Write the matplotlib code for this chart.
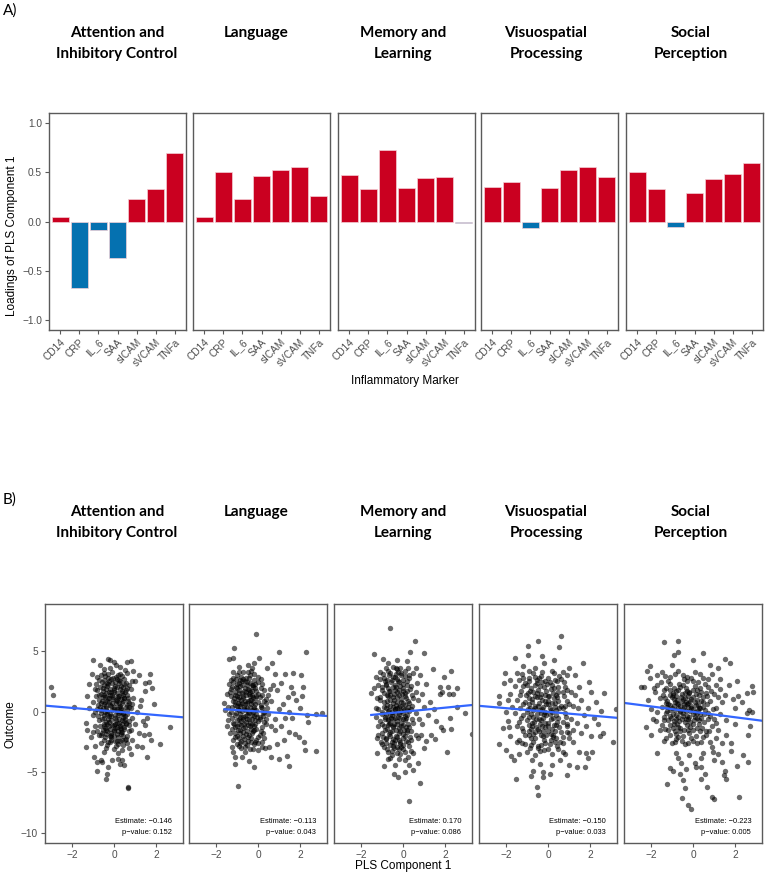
import numpy as np
import matplotlib
matplotlib.use("Agg")
import matplotlib.pyplot as plt

plt.rcParams["font.family"] = ["Liberation Sans", "DejaVu Sans"]

# ---------------- data ----------------
domains = ["Attention and\nInhibitory Control", "Language", "Memory and\nLearning",
           "Visuospatial\nProcessing", "Social\nPerception"]
markers = ["CD14", "CRP", "IL_6", "SAA", "sICAM", "sVCAM", "TNFa"]

loadings_attention = [0.044, -0.670, -0.088, -0.370, 0.227, 0.329, 0.695]
loadings_language = [0.047, 0.498, 0.227, 0.461, 0.522, 0.553, 0.254]
loadings_memory = [0.475, 0.329, 0.725, 0.339, 0.444, 0.451, -0.015]
loadings_visuospatial = [0.349, 0.400, -0.070, 0.342, 0.525, 0.555, 0.454]
loadings_social = [0.497, 0.330, -0.055, 0.290, 0.434, 0.478, 0.594]

estimates = [-0.146, -0.113, 0.170, -0.150, -0.223]
intercepts = [0.02, 0.02, -0.01, -0.01, -0.01]
p_values = ["0.152", "0.043", "0.086", "0.033", "0.005"]
line_xmin = [-3.3, -1.6, -1.52, -3.3, -3.3]
line_xmax = [3.3, 3.3, 3.3, 3.3, 3.3]

scatter_attention = [
    (-3.03, 2.07), (-2.90, 1.35), (-1.91, 0.41), (0.66, -6.2), (0.68, -6.3), (-0.38, -5.54), (-0.34, -5.18),
    (-0.83, -4.88), (2.68, -1.29), (2.20, -2.70), (1.59, -3.77), (1.70, 3.11), (1.68, 2.48), (1.83, 1.96),
    (1.91, 0.61), (1.46, 2.34), (1.49, 1.74), (0.82, 4.19), (0.61, 4.13), (-0.99, 4.27), (-0.30, 4.32),
    (-0.18, 4.3), (-0.67, 3.86), (-1.31, 1.29), (-1.33, -0.96), (-1.31, -1.52), (-1.33, -2.95), (-1.11, -2.12),
    (-0.96, -3.72), (-0.83, -4.13), (-0.59, -4.13), (0.50, -4.44), (0.40, -4.0), (0.82, -3.5), (1.09, -2.84),
    (1.33, -2.95), (1.44, -1.93), (1.65, -1.87), (1.78, -2.34), (0.88, -2.34), (1.38, -0.8), (1.22, 0.47),
    (0.88, 0.63), (0.53, 3.44), (-1.04, 3.11), (-0.91, 1.85), (0.08, 3.86), (-0.6, -4.0), (-0.3, -4.6),
    (-0.1, -4.0), (0.2, -3.9), (0.3, -4.3), (1.0, -1.0), (1.1, 0.0), (1.3, 1.0), (1.0, 2.5), (1.2, 3.0),
    (0.9, 3.4), (-1.2, 0.3), (-1.0, -0.3), (-1.2, 2.3), (-0.8, 2.9), (-0.5, 3.5), (0.3, 3.7), (0.0, 4.1),
    (-1.0, 0.8), (1.5, -1.1), (1.6, -0.5), (1.2, -1.8), (0.7, -3.0), (-0.9, -2.8), (-1.0, -1.7),
    (-0.7, 2.6), (-0.5, 2.2), (-0.3, 2.8), (-0.1, 2.4), (0.1, 2.9), (0.3, 2.5), (0.5, 2.7), (0.7, 2.2),
    (-0.8, 1.8), (-0.6, 1.5), (-0.4, 1.9), (-0.2, 1.4), (0.0, 1.8), (0.2, 1.3), (0.4, 1.7), (0.6, 1.4), (0.8, 1.9),
    (-0.7, 1.0), (-0.5, 0.6), (-0.3, 1.1), (-0.1, 0.7), (0.1, 1.0), (0.3, 0.5), (0.5, 1.1), (0.7, 0.7),
    (-0.8, 0.2), (-0.6, -0.1), (-0.4, 0.3), (-0.2, -0.2), (0.0, 0.2), (0.2, -0.3), (0.4, 0.1), (0.6, -0.2), (0.8, 0.3),
    (-0.7, -0.7), (-0.5, -1.0), (-0.3, -0.6), (-0.1, -1.1), (0.1, -0.7), (0.3, -1.2), (0.5, -0.8), (0.7, -1.1),
    (-0.8, -1.6), (-0.6, -1.9), (-0.4, -1.5), (-0.2, -2.0), (0.0, -1.6), (0.2, -2.1), (0.4, -1.7), (0.6, -2.0),
    (0.8, -1.5), (-0.6, -2.6), (-0.4, -3.0), (-0.2, -2.5), (0.0, -3.1), (0.2, -2.7), (0.4, -3.2), (0.6, -2.6),
    (-0.5, 3.2), (-0.1, 3.3), (0.3, 3.1), (-0.45, 0.0), (-0.15, 0.45), (0.15, 0.25), (0.45, -0.45), (-0.25, -0.35),
    (0.05, -0.55), (0.25, 0.75), (-0.35, 0.85), (-0.05, 1.25), (0.35, 1.05), (-0.55, 1.25), (0.55, 0.35),
    (-0.25, 1.65), (0.15, 1.55), (-0.45, -1.35), (0.05, -1.35), (0.35, -1.45), (-0.15, -1.75), (0.25, -0.95),
    (-0.35, 2.35), (0.05, 2.15), (0.45, 2.05), (-0.15, -2.35), (0.15, -2.45), (-0.65, 0.4), (0.65, 0.9),
    (-0.42, 2.95), (0.12, 2.7), (0.38, 2.95), (-0.58, 2.45), (-0.22, 2.55), (0.22, 2.35), (0.55, 2.4),
    (-0.68, 2.05), (-0.32, 2.1), (-0.02, 1.95), (0.32, 2.15), (0.62, 1.95), (-0.52, 1.72), (-0.12, 1.62),
    (0.28, 1.85), (0.52, 1.62), (-0.72, 1.35), (-0.42, 1.18), (-0.08, 1.42), (0.18, 1.12), (0.42, 1.38),
    (0.68, 1.15), (-0.58, 0.92), (-0.22, 0.82), (0.08, 0.68), (0.42, 0.88), (0.62, 0.58), (-0.78, 0.55),
    (-0.38, 0.48), (-0.02, 0.42), (0.32, 0.28), (0.72, 0.42), (-0.62, 0.12), (-0.32, 0.08), (0.12, 0.08),
    (0.42, -0.12), (0.62, 0.12), (-0.78, -0.32), (-0.48, -0.28), (-0.12, -0.38), (0.22, -0.12), (0.52, -0.32),
    (-0.58, -0.62), (-0.22, -0.82), (0.12, -0.92), (0.38, -0.68), (0.72, -0.78), (-0.68, -1.18), (-0.32, -1.02),
    (0.02, -1.12), (0.28, -1.32), (0.58, -1.05), (-0.52, -1.52), (-0.18, -1.42), (0.18, -1.62), (0.48, -1.42),
    (0.72, -1.62), (-0.72, -1.92), (-0.38, -1.82), (-0.02, -1.98), (0.32, -1.88), (0.58, -2.22), (-0.48, -2.32),
    (-0.12, -2.12), (0.28, -2.42), (0.52, -2.35), (-0.32, -2.78), (0.08, -2.85), (0.42, -2.72), (-0.9, 0.0),
    (-0.85, 1.3), (0.85, -0.5), (0.9, 1.1), (-0.9, -1.2), (0.85, 2.5), (-0.85, 2.3), (-0.6, 3.0), (0.6, 3.2),
    (-0.2, 3.6), (0.2, -3.4), (-0.5, -3.3),
    (-0.46, 2.58), (-0.14, 2.72), (0.24, 2.62), (0.46, 2.28), (-0.28, 2.28), (0.06, 2.48), (-0.52, 1.95),
    (-0.18, 1.88), (0.16, 2.02), (0.38, 1.52), (-0.36, 1.58), (0.02, 1.62), (-0.48, 1.38), (-0.24, 1.12),
    (0.26, 1.28), (0.48, 1.12), (-0.06, 1.05), (-0.42, 0.78), (0.12, 0.88), (0.36, 0.72), (-0.18, 0.58),
    (0.22, 0.42), (-0.52, 0.28), (-0.08, 0.18), (0.34, -0.02), (-0.32, -0.18), (0.06, -0.28), (0.44, -0.18),
    (-0.48, -0.52), (-0.12, -0.68), (0.24, -0.58), (0.52, -0.62), (-0.38, -0.88), (0.04, -0.98), (0.38, -1.02),
    (-0.22, -1.22), (0.16, -1.28), (-0.48, -1.18), (0.46, -1.24), (-0.34, -1.58), (0.02, -1.48), (0.32, -1.68),
    (-0.16, -1.92), (0.14, -1.82), (0.44, -2.02), (-0.44, -2.12), (0.04, -2.38), (-0.28, -2.48), (0.36, -2.32),
    (-0.04, 2.82), (0.2, 3.05), (-0.3, 3.1), (0.55, 1.8), (-0.6, 0.75), (0.58, -0.95), (-0.58, -1.75),
]

scatter_language = [
    (-0.08, 6.39), (-1.14, 5.23), (0.99, 4.96), (2.28, 4.93), (-1.41, 4.33), (-1.2, 4.41), (0.06, 4.46),
    (-0.96, -6.12), (-0.19, -4.57), (-0.43, -4.1), (-1.09, -4.33), (1.47, -4.46), (1.41, -3.69), (0.99, -3.94),
    (0.61, -3.72), (2.76, -3.25), (2.24, -3.14), (2.18, -2.51), (1.96, -2.12), (1.79, -1.85), (1.46, -1.68),
    (1.62, -0.55), (2.32, -0.28), (2.40, -0.83), (2.76, -0.22), (3.08, -0.08), (2.15, 2.07), (2.05, 3.03),
    (1.65, 3.22), (1.28, 3.09), (2.12, 1.29), (1.68, 1.57), (1.81, 0.96), (1.43, 1.24), (0.67, 3.99),
    (0.45, 3.58), (0.8, 3.1), (-1.65, 0.69), (-1.57, 0.14), (-1.44, -0.69), (-1.33, -1.79), (-1.25, -2.89),
    (-1.09, -3.72), (-0.77, -3.72), (0.35, -3.03), (0.51, -2.89), (0.91, -2.67), (1.23, -2.34), (0.8, -1.5),
    (1.1, -1.2), (1.0, 0.2), (1.2, 0.6), (0.9, 1.8), (1.1, 2.4), (0.7, 2.2), (1.5, 0.0), (1.3, -0.5),
    (0.8, -0.6), (0.6, 0.9), (-1.5, 1.5), (-1.4, 2.3), (-1.2, 3.3), (-0.9, 3.7), (-0.5, 3.9), (-0.2, 4.0),
    (-1.5, -1.2), (-0.6, -3.3), (0.0, -3.2), (0.2, -2.5), (1.6, 2.0), (2.0, 0.3),
    (-1.2, 2.8), (-1.0, 2.3), (-0.8, 2.9), (-0.6, 2.5), (-0.4, 3.0), (-0.2, 2.6), (0.0, 2.9), (0.2, 2.3),
    (-1.3, 1.9), (-1.1, 1.4), (-0.9, 1.8), (-0.7, 1.3), (-0.5, 1.9), (-0.3, 1.4), (-0.1, 1.7), (0.1, 1.2),
    (0.3, 1.8), (0.5, 1.4), (-1.2, 0.9), (-1.0, 0.5), (-0.8, 1.0), (-0.6, 0.6), (-0.4, 1.0), (-0.2, 0.4),
    (0.0, 0.8), (0.2, 0.3), (0.4, 0.7), (-1.3, 0.0), (-1.1, -0.3), (-0.9, 0.1), (-0.7, -0.4), (-0.5, 0.0),
    (-0.3, -0.3), (-0.1, 0.1), (0.1, -0.4), (0.3, 0.0), (0.5, -0.2), (-1.2, -0.9), (-1.0, -1.2), (-0.8, -0.8),
    (-0.6, -1.3), (-0.4, -0.9), (-0.2, -1.2), (0.0, -0.8), (0.2, -1.3), (0.4, -1.0), (-1.1, -1.8), (-0.9, -2.2),
    (-0.7, -1.7), (-0.5, -2.1), (-0.3, -1.8), (-0.1, -2.3), (0.1, -1.9), (0.3, -2.2), (-1.0, -2.7), (-0.8, -3.0),
    (-0.6, -2.6), (-0.4, -3.1), (-0.2, -2.7), (0.0, -2.6), (-0.95, 0.75), (-0.65, 0.25), (-0.35, 0.6),
    (-0.85, -0.45), (-0.55, -0.6), (-0.25, -0.05), (-0.75, 1.55), (-0.45, 1.45), (-0.15, 1.1), (-0.95, -1.5),
    (-0.65, -1.0), (-0.35, -1.45), (-1.05, 2.0), (-0.55, 2.2), (-0.85, 2.6), (-0.25, 2.0), (-0.7, 3.3),
    (-0.35, 3.4), (0.15, 0.55), (-0.05, -0.45), (-1.15, 1.15),
    (-1.02, 3.05), (-0.58, 2.75), (-0.18, 3.15), (-1.18, 2.45), (-0.78, 2.55), (-0.38, 2.35), (0.02, 2.45),
    (-1.22, 2.05), (-0.88, 2.12), (-0.62, 1.98), (-0.28, 2.18), (0.12, 1.95), (-1.08, 1.65), (-0.68, 1.72),
    (-0.38, 1.62), (-0.02, 1.48), (-1.28, 1.32), (-0.92, 1.22), (-0.58, 1.38), (-0.22, 1.18), (0.18, 1.42),
    (0.38, 1.05), (-1.12, 0.82), (-0.78, 0.72), (-0.48, 0.88), (-0.12, 0.62), (0.28, 0.88), (-1.22, 0.38),
    (-0.88, 0.45), (-0.52, 0.32), (-0.18, 0.22), (0.12, 0.38), (-1.05, -0.08), (-0.78, 0.02), (-0.42, -0.12),
    (-0.08, -0.22), (0.22, -0.08), (-1.25, -0.52), (-0.92, -0.58), (-0.62, -0.38), (-0.28, -0.62), (0.08, -0.58),
    (-1.15, -1.02), (-0.82, -1.12), (-0.48, -1.08), (-0.12, -1.02), (0.28, -0.82), (-1.22, -1.42), (-0.88, -1.52),
    (-0.52, -1.58), (-0.18, -1.48), (0.12, -1.58), (-1.02, -1.98), (-0.72, -2.02), (-0.42, -1.92), (-0.02, -2.05),
    (0.22, -1.72), (-1.18, -2.32), (-0.82, -2.42), (-0.48, -2.38), (-0.12, -2.52), (-0.92, -2.82), (-0.52, -2.75),
    (-0.22, -3.05), (-1.45, 0.4), (-1.4, -0.2), (-1.35, 1.6), (-1.3, 2.6), (0.45, 0.3), (0.4, -0.6), (0.6, -1.2),
    (0.55, 1.9), (-0.9, 3.3), (-0.3, 3.6), (-1.2, -3.3), (0.2, -2.9),
    (-1.06, 2.72), (-0.72, 2.68), (-0.42, 2.78), (-0.12, 2.32), (-0.92, 2.38), (-0.52, 2.42), (-0.22, 2.22),
    (-1.02, 1.98), (-0.78, 2.18), (-0.42, 1.82), (-0.12, 1.92), (-0.92, 1.58), (-0.58, 1.62), (-0.28, 1.72),
    (-1.02, 1.32), (-0.72, 1.12), (-0.38, 1.28), (-0.08, 1.32), (-0.98, 1.02), (-0.62, 0.88), (-0.32, 0.98),
    (-0.88, 0.62), (-0.52, 0.72), (-0.22, 0.78), (-1.08, 0.58), (-0.68, 0.42), (-0.38, 0.38), (-0.98, 0.22),
    (-0.58, 0.12), (-0.28, 0.18), (-0.88, -0.18), (-0.52, -0.28), (-0.18, -0.38), (-1.02, -0.72), (-0.72, -0.62),
    (-0.42, -0.58), (-0.12, -0.68), (-0.92, -0.98), (-0.58, -0.88), (-0.28, -1.02), (-1.08, -1.28), (-0.72, -1.38),
    (-0.38, -1.22), (-0.08, -1.42), (-0.88, -1.72), (-0.58, -1.88), (-0.22, -1.62), (-1.12, -2.12), (-0.68, -2.28),
    (-0.32, -2.18), (-0.88, -2.58), (-0.62, -2.92), (-0.32, -2.48), (-0.48, 3.32), (0.12, 2.72), (0.22, -0.32),
]

scatter_memory = [
    (-0.64, 6.89), (0.58, 5.81), (0.35, 4.93), (1.01, 4.82), (-1.39, 4.79), (-0.95, 4.35), (1.43, 3.55),
    (2.28, 3.39), (1.97, 2.89), (2.56, 1.93), (2.16, 2.07), (1.75, 2.07), (2.19, 1.46), (2.39, 1.46),
    (1.75, 1.46), (1.88, 1.6), (-1.55, 1.52), (-1.39, 1.93), (2.95, -0.14), (2.58, 0.36), (2.23, -0.5),
    (2.28, -1.4), (1.81, -1.24), (1.89, -1.52), (3.29, -1.82), (1.55, -2.29), (1.12, -2.4), (1.33, -1.96),
    (2.10, -3.36), (0.82, -5.92), (0.27, -7.38), (-0.42, -5.15), (-0.26, -5.37), (0.10, -5.01), (0.50, -4.85),
    (0.71, -4.21), (-0.90, -4.46), (-1.23, -3.39), (-1.0, -2.7), (0.87, -1.9), (1.2, -0.3), (1.0, 0.4),
    (1.3, 0.8), (0.9, 1.5), (1.1, 2.3), (0.8, 3.0), (0.6, 3.6), (1.5, 0.2), (1.6, -0.8), (0.9, -1.0),
    (1.0, -3.0), (0.5, -3.4), (-1.2, -1.2), (-1.3, 0.3), (-1.1, 2.7), (-0.7, 4.0), (-0.3, 4.3), (0.2, 4.2),
    (-1.25, -2.2), (0.3, -4.4), (-0.4, -4.4), (-0.7, -3.9),
    (-1.1, 3.3), (-0.9, 2.8), (-0.7, 3.4), (-0.5, 2.9), (-0.3, 3.5), (-0.1, 3.0), (0.1, 3.4), (0.3, 2.8),
    (0.5, 3.2), (-1.2, 2.2), (-1.0, 1.8), (-0.8, 2.3), (-0.6, 1.7), (-0.4, 2.2), (-0.2, 1.8), (0.0, 2.3),
    (0.2, 1.7), (0.4, 2.1), (0.6, 1.6), (-1.1, 1.2), (-0.9, 0.8), (-0.7, 1.3), (-0.5, 0.7), (-0.3, 1.2),
    (-0.1, 0.8), (0.1, 1.3), (0.3, 0.7), (0.5, 1.1), (-1.2, 0.2), (-1.0, -0.2), (-0.8, 0.3), (-0.6, -0.3),
    (-0.4, 0.2), (-0.2, -0.2), (0.0, 0.3), (0.2, -0.3), (0.4, 0.2), (0.6, -0.1), (-1.1, -0.8), (-0.9, -1.2),
    (-0.7, -0.7), (-0.5, -1.3), (-0.3, -0.8), (-0.1, -1.2), (0.1, -0.7), (0.3, -1.3), (0.5, -0.9),
    (-1.0, -1.8), (-0.8, -2.2), (-0.6, -1.7), (-0.4, -2.3), (-0.2, -1.8), (0.0, -2.2), (0.2, -1.7),
    (0.4, -2.3), (0.6, -1.9), (-0.9, -2.9), (-0.7, -3.3), (-0.5, -2.8), (-0.3, -3.4), (-0.1, -2.9),
    (0.1, -3.3), (0.3, -2.8), (-0.6, -3.8), (-0.2, -3.9), (0.1, -4.0), (-0.35, 0.55), (-0.15, -0.55),
    (-0.55, 0.0), (-0.25, 2.55), (-0.45, 1.5), (-0.05, 1.5), (-0.65, -1.0), (-0.35, -1.5), (0.05, -1.5),
    (-0.45, -2.6), (-0.15, -2.5), (-0.75, 2.6), (-0.35, 3.1), (0.05, 0.1), (-0.85, -0.4), (0.25, 0.4),
    (-0.5, -0.6), (-0.2, 0.35),
    (-0.82, 3.62), (-0.48, 3.72), (-0.12, 3.58), (0.22, 3.65), (-0.98, 3.12), (-0.62, 3.18), (-0.22, 3.28),
    (0.08, 2.95), (-0.88, 2.52), (-0.52, 2.62), (-0.18, 2.42), (0.18, 2.55), (-1.02, 2.02), (-0.72, 1.98),
    (-0.32, 2.02), (0.02, 1.92), (0.32, 1.88), (-0.92, 1.52), (-0.62, 1.42), (-0.28, 1.62), (0.08, 1.58),
    (0.42, 1.42), (-1.08, 0.98), (-0.78, 0.92), (-0.42, 0.98), (-0.08, 1.02), (0.22, 0.92), (-0.92, 0.42),
    (-0.62, 0.48), (-0.28, 0.32), (0.08, 0.52), (0.42, 0.48), (-1.02, -0.02), (-0.72, 0.08), (-0.38, -0.08),
    (-0.02, -0.12), (0.28, 0.02), (-0.88, -0.58), (-0.58, -0.52), (-0.22, -0.42), (0.12, -0.48), (0.42, -0.58),
    (-1.02, -1.02), (-0.72, -1.08), (-0.42, -0.98), (-0.08, -0.92), (0.22, -1.02), (-0.88, -1.52), (-0.52, -1.58),
    (-0.18, -1.38), (0.18, -1.52), (0.38, -1.62), (-0.98, -2.08), (-0.62, -2.02), (-0.28, -2.12), (0.08, -2.02),
    (0.32, -2.08), (-0.82, -2.58), (-0.52, -2.52), (-0.12, -2.68), (0.22, -2.48), (-0.78, -3.08), (-0.42, -3.02),
    (-0.02, -3.12), (0.38, -3.22), (-0.52, -3.58), (-0.12, -3.52), (0.22, -3.72), (-1.3, 2.9), (-1.3, -0.4),
    (-1.25, 1.1), (0.7, 1.0), (0.75, -0.6), (0.7, -2.2), (0.65, 2.4), (-1.2, -1.9),
    (-0.68, 3.02), (-0.38, 2.88), (-0.08, 3.22), (-0.58, 2.42), (-0.28, 2.72), (0.02, 2.58), (-0.82, 2.18),
    (-0.48, 2.02), (-0.12, 2.12), (-0.68, 1.72), (-0.38, 1.82), (-0.02, 1.72), (0.18, 2.18), (-0.78, 1.38),
    (-0.48, 1.18), (-0.18, 1.38), (0.12, 1.12), (-0.62, 0.98), (-0.28, 0.82), (0.02, 0.68), (-0.78, 0.58),
    (-0.48, 0.42), (-0.12, 0.48), (0.18, 0.18), (-0.68, 0.12), (-0.38, 0.22), (-0.08, 0.02), (-0.82, -0.22),
    (-0.52, -0.28), (-0.18, -0.02), (0.08, -0.32), (-0.72, -0.58), (-0.38, -0.48), (-0.02, -0.62), (-0.62, -0.92),
    (-0.28, -1.02), (0.02, -1.08), (-0.78, -1.42), (-0.48, -1.22), (-0.12, -1.62), (0.12, -1.28), (-0.68, -1.88),
    (-0.32, -1.98), (-0.02, -1.82), (-0.82, -2.28), (-0.48, -2.22), (-0.18, -2.32), (0.12, -2.42), (-0.62, -2.72),
    (-0.28, -2.88), (0.02, -2.72), (-0.52, -3.22), (-0.18, -3.12), (-0.32, 3.62), (0.28, 3.02), (-1.05, -2.5),
]

scatter_visuospatial = [
    (0.61, 6.25), (-0.50, 5.84), (0.53, 5.37), (-0.96, 5.43), (-1.57, 4.41), (-0.31, 4.6), (-0.95, 4.7),
    (1.68, 4.0), (1.97, 2.48), (2.08, 1.65), (2.68, 1.52), (3.25, 0.19), (2.55, 0.06), (3.09, -2.53),
    (2.63, -1.79), (2.47, -2.01), (2.08, -2.01), (2.12, -3.31), (1.81, -3.39), (1.89, -3.83), (1.76, -4.57),
    (1.41, -4.57), (1.01, -4.38), (0.90, -5.26), (0.10, -5.12), (-0.22, -5.01), (-0.22, -5.43), (-0.51, -6.25),
    (-0.50, -6.89), (-0.72, -4.88), (-0.83, -5.32), (-1.55, -5.59), (-2.32, -2.67), (-2.16, -1.38),
    (-2.36, 0.69), (-2.32, 1.29), (-2.12, 2.34), (-2.04, 3.17), (-1.79, -3.64), (-1.63, -3.99), (-1.4, -3.5),
    (-0.75, -4.0), (0.55, -4.0), (0.82, -3.5), (1.5, -3.3), (2.2, -0.5), (2.3, 0.8), (1.9, 0.3), (2.4, -1.0),
    (1.8, -1.2), (1.6, 1.0), (1.5, 2.0), (1.3, 3.0), (1.0, 3.6), (0.3, 4.3), (-0.2, 4.0), (-1.2, 3.8),
    (-1.8, 2.6), (-1.9, 1.0), (-2.0, 0.0), (-1.9, -0.8), (-1.8, -2.0), (-2.0, -3.2), (-1.5, -2.5),
    (0.2, -4.4), (-0.4, -4.3), (1.2, -2.5), (1.6, -1.8), (1.7, -0.3), (0.9, -1.7), (1.3, 1.4),
    (-1.5, 3.2), (-1.2, 2.8), (-0.9, 3.4), (-0.6, 2.9), (-0.3, 3.3), (0.0, 2.8), (0.3, 3.2), (0.6, 2.7),
    (0.9, 3.0), (-1.6, 2.1), (-1.3, 1.7), (-1.0, 2.2), (-0.7, 1.6), (-0.4, 2.1), (-0.1, 1.7), (0.2, 2.2),
    (0.5, 1.6), (0.8, 2.0), (1.1, 1.6), (-1.5, 1.0), (-1.2, 0.6), (-0.9, 1.1), (-0.6, 0.5), (-0.3, 1.0),
    (0.0, 0.6), (0.3, 1.1), (0.6, 0.5), (0.9, 0.9), (1.2, 0.5), (-1.6, -0.1), (-1.3, -0.5), (-1.0, 0.0),
    (-0.7, -0.4), (-0.4, 0.1), (-0.1, -0.3), (0.2, 0.0), (0.5, -0.5), (0.8, -0.1), (1.1, -0.6), (-1.5, -1.2),
    (-1.2, -1.6), (-0.9, -1.1), (-0.6, -1.7), (-0.3, -1.2), (0.0, -1.6), (0.3, -1.1), (0.6, -1.7), (0.9, -1.2),
    (1.2, -1.5), (-1.4, -2.3), (-1.1, -2.7), (-0.8, -2.2), (-0.5, -2.8), (-0.2, -2.3), (0.1, -2.7), (0.4, -2.2),
    (0.7, -2.6), (1.0, -2.2), (-1.0, -3.3), (-0.6, -3.6), (-0.2, -3.2), (0.2, -3.5), (0.5, -3.1),
    (-0.55, 1.2), (-0.25, 0.4), (0.05, 1.3), (-0.85, 0.3), (-0.45, -0.6), (-0.15, -0.9), (0.15, -0.6),
    (-0.75, -0.9), (0.35, 0.4), (-0.35, -1.9), (0.25, -1.9), (-0.05, 2.3), (-0.55, 2.4), (0.45, 2.5),
    (-1.05, 1.4), (0.75, 1.3), (-0.15, 0.0), (-0.9, -1.9), (0.55, -2.5), (-0.6, 3.6),
    (-1.22, 3.12), (-0.72, 3.22), (-0.32, 2.98), (0.18, 3.35), (0.72, 3.28), (-1.38, 2.62), (-0.92, 2.52),
    (-0.52, 2.62), (-0.12, 2.55), (0.32, 2.62), (0.78, 2.45), (-1.18, 2.12), (-0.82, 1.92), (-0.48, 1.82),
    (-0.18, 2.02), (0.12, 1.88), (0.48, 2.08), (0.92, 1.82), (-1.32, 1.38), (-0.98, 1.52), (-0.62, 1.32),
    (-0.32, 1.48), (0.02, 1.32), (0.38, 1.42), (0.72, 1.62), (-1.12, 0.82), (-0.78, 0.82), (-0.42, 0.72),
    (-0.12, 0.92), (0.18, 0.72), (0.48, 0.92), (1.02, 0.62), (-1.32, 0.32), (-0.98, 0.22), (-0.62, 0.28),
    (-0.28, 0.22), (0.08, 0.32), (0.38, 0.12), (0.72, 0.28), (-1.18, -0.28), (-0.82, -0.18), (-0.52, -0.22),
    (-0.22, -0.48), (0.08, -0.22), (0.38, -0.28), (0.88, -0.42), (-1.38, -0.82), (-1.02, -0.72), (-0.68, -0.82),
    (-0.32, -0.72), (0.02, -0.92), (0.42, -0.82), (0.72, -0.88), (-1.22, -1.32), (-0.82, -1.42), (-0.48, -1.42),
    (-0.12, -1.28), (0.18, -1.42), (0.52, -1.28), (1.02, -1.72), (-1.08, -1.92), (-0.72, -1.88), (-0.42, -1.62),
    (-0.08, -1.92), (0.32, -1.58), (0.72, -2.08), (-1.22, -2.62), (-0.72, -2.52), (-0.32, -2.72), (0.12, -2.32),
    (0.42, -2.82), (-0.88, -3.02), (-0.38, -3.28), (0.02, -3.08), (0.72, -3.32), (-1.8, 1.5), (-1.85, -1.3),
    (1.4, -0.9), (1.45, 0.3), (-1.7, 0.4),
    (-0.92, 2.78), (-0.42, 2.82), (0.08, 2.42), (0.52, 2.92), (-1.08, 2.38), (-0.62, 2.22), (-0.28, 2.42),
    (0.28, 1.98), (-0.88, 1.72), (-0.52, 1.58), (-0.12, 1.38), (0.22, 1.52), (-0.78, 1.08), (-0.38, 1.22),
    (0.02, 0.92), (0.42, 1.18), (-0.92, 0.62), (-0.48, 0.48), (-0.08, 0.62), (0.32, 0.72), (-0.72, 0.18),
    (-0.32, -0.08), (0.12, 0.18), (0.52, 0.28), (-0.92, -0.42), (-0.58, -0.62), (-0.18, -0.18), (0.22, -0.52),
    (-0.78, -1.18), (-0.38, -0.98), (0.02, -1.22), (0.38, -1.08), (-0.92, -1.62), (-0.58, -1.28), (-0.22, -1.62),
    (0.12, -1.82), (-0.62, -2.18), (-0.22, -1.98), (0.22, -2.12), (-0.82, -2.72), (-0.12, -2.62), (0.32, -2.48),
    (-0.48, -3.02), (0.92, -0.98), (0.82, 0.48),
]

scatter_social = [
    (-1.41, 5.76), (-0.72, 5.87), (0.48, 4.88), (-0.72, 4.95), (-0.91, 4.67), (1.51, 4.38), (1.78, 4.05),
    (-2.08, 3.77), (-2.19, 3.39), (-2.48, 2.07), (-2.32, 2.07), (-1.86, 1.93), (-2.16, 0.94), (2.80, 2.15),
    (2.88, 1.65), (2.56, 1.57), (2.16, 1.29), (2.32, 0.83), (1.89, 1.02), (2.68, 0.14), (2.80, 0.0),
    (2.56, -0.14), (2.72, -1.18), (2.64, -1.93), (1.84, -2.56), (1.84, -3.22), (2.40, -3.58), (2.64, -4.13),
    (2.12, -4.49), (1.39, -4.19), (1.52, -4.9), (1.47, -5.23), (1.60, -5.56), (2.21, -7.08), (0.91, -7.02),
    (1.01, -7.19), (0.69, -6.2), (0.37, -5.54), (-0.24, -7.71), (-0.08, -8.07), (-0.53, -7.11), (-0.40, -6.28),
    (-0.48, -5.65), (-1.25, -5.95), (-1.71, -3.39), (-1.12, -4.66), (-0.96, -4.9), (-0.64, -5.15),
    (-0.32, -4.7), (-0.8, -3.45), (-0.72, -3.8), (-0.56, -4.2), (0.08, -4.2), (0.16, -4.55), (0.4, -4.55),
    (0.56, -5.15), (0.37, -3.8), (-2.26, -1.24), (-2.0, -1.93), (1.2, -3.5), (0.9, -2.9), (1.0, -4.0),
    (-0.2, -3.6), (-1.0, 3.9), (0.0, 4.3), (0.8, 3.9), (1.2, 3.6), (-1.7, 3.0), (-2.0, 0.2), (-1.9, -0.6),
    (2.0, 0.3), (1.7, 2.2), (2.0, -1.0), (1.6, -1.9), (2.1, 2.5), (-1.4, -2.4), (-1.6, -1.5), (1.4, -2.6),
    (0.5, -3.4),
    (-1.5, 3.3), (-1.1, 2.9), (-0.7, 3.4), (-0.3, 2.9), (0.1, 3.3), (0.5, 2.8), (0.9, 3.1), (1.3, 2.7),
    (-1.7, 2.2), (-1.4, 1.8), (-1.1, 2.3), (-0.8, 1.7), (-0.5, 2.2), (-0.2, 1.6), (0.1, 2.1), (0.4, 1.6),
    (0.7, 2.0), (1.0, 1.5), (1.3, 1.9), (-1.6, 1.1), (-1.3, 0.7), (-1.0, 1.2), (-0.7, 0.6), (-0.4, 1.1),
    (-0.1, 0.5), (0.2, 1.0), (0.5, 0.4), (0.8, 0.9), (1.1, 0.3), (1.4, 0.8), (-1.7, 0.0), (-1.4, -0.4),
    (-1.1, 0.1), (-0.8, -0.3), (-0.5, 0.2), (-0.2, -0.4), (0.1, 0.0), (0.4, -0.5), (0.7, -0.1), (1.0, -0.6),
    (1.3, -0.2), (-1.5, -1.1), (-1.2, -1.5), (-0.9, -1.0), (-0.6, -1.6), (-0.3, -1.1), (0.0, -1.5),
    (0.3, -1.0), (0.6, -1.6), (0.9, -1.2), (1.2, -1.5), (-1.3, -2.2), (-1.0, -2.6), (-0.7, -2.1),
    (-0.4, -2.7), (-0.1, -2.2), (0.2, -2.6), (0.5, -2.1), (0.8, -2.5), (1.1, -2.2), (-0.9, 0.45),
    (-0.6, -0.05), (-0.3, 0.6), (0.0, 0.25), (-0.75, 1.0), (-0.45, 0.4), (-0.15, 0.9), (0.25, 0.55),
    (-1.05, -0.55), (-0.35, -0.6), (0.05, -0.7), (-0.65, -0.75), (-0.95, 1.55), (-0.55, 1.5), (0.35, -0.2),
    (-0.25, 1.3), (0.15, 1.5), (0.65, 1.3), (-1.25, 0.35),
    (-1.32, 2.92), (-0.88, 3.12), (-0.48, 3.02), (-0.08, 2.82), (0.32, 3.12), (0.72, 2.72), (-1.52, 2.42),
    (-1.18, 2.52), (-0.68, 2.32), (-0.28, 2.52), (0.22, 2.42), (0.58, 2.28), (1.12, 2.22), (-1.28, 1.92),
    (-0.92, 1.92), (-0.62, 2.02), (-0.32, 1.92), (0.02, 1.82), (0.32, 1.98), (0.88, 1.72), (-1.42, 1.42),
    (-1.12, 1.38), (-0.82, 1.32), (-0.38, 1.52), (-0.02, 1.22), (0.48, 1.22), (1.18, 1.22), (-1.22, 0.92),
    (-0.88, 0.82), (-0.52, 0.92), (-0.22, 0.72), (0.08, 0.78), (0.38, 0.92), (0.68, 0.62), (-1.48, 0.42),
    (-1.08, 0.52), (-0.72, 0.28), (-0.42, 0.62), (-0.08, 0.32), (0.22, 0.12), (0.58, 0.18), (0.98, 0.22),
    (-1.28, -0.12), (-0.98, -0.18), (-0.62, 0.08), (-0.32, 0.02), (0.02, -0.22), (0.32, 0.32), (0.82, -0.32),
    (-1.18, -0.72), (-0.82, -0.62), (-0.48, -0.38), (-0.12, -0.82), (0.18, -0.48), (0.52, -0.82), (1.12, -0.92),
    (-1.32, -1.42), (-0.98, -1.32), (-0.72, -1.28), (-0.42, -1.52), (-0.12, -1.28), (0.18, -1.38), (0.42, -1.32),
    (0.78, -1.62), (-1.12, -1.92), (-0.82, -1.82), (-0.48, -1.98), (-0.18, -1.78), (0.12, -2.02), (0.62, -1.92),
    (-0.88, -2.52), (-0.52, -2.38), (-0.22, -2.62), (0.38, -2.52), (-1.8, 1.6), (-1.75, -0.8), (1.6, -0.7),
    (1.55, 1.4), (-2.05, 2.8), (0.95, -3.3),
    (-1.12, 1.78), (-0.72, 1.82), (-0.28, 1.72), (0.18, 1.78), (-0.98, 1.42), (-0.58, 1.22), (-0.18, 1.52),
    (0.28, 1.38), (-1.32, 1.12), (-0.92, 1.02), (-0.48, 1.08), (-0.08, 1.02), (0.48, 0.78), (-1.18, 0.62),
    (-0.78, 0.72), (-0.32, 0.82), (0.12, 0.58), (-1.02, 0.32), (-0.62, 0.48), (-0.22, 0.42), (0.28, 0.32),
    (-1.22, 0.08), (-0.88, 0.12), (-0.48, -0.08), (-0.12, 0.08), (0.18, -0.12), (0.52, -0.18), (-1.08, -0.32),
    (-0.72, -0.42), (-0.28, -0.32), (0.08, -0.42), (-0.92, -0.78), (-0.52, -0.62), (-0.22, -0.58), (0.28, -0.72),
    (-1.12, -1.12), (-0.78, -1.02), (-0.38, -0.88), (0.02, -1.02), (-0.62, -1.38), (-0.22, -1.48), (0.32, -1.62),
    (-0.88, -1.62), (-1.38, -0.72), (0.72, -0.58), (0.62, 1.58), (-0.42, 2.72), (0.02, 2.52), (-0.82, -2.22),
    (0.02, -2.42),
]

loadings_all = [loadings_attention, loadings_language, loadings_memory,
                loadings_visuospatial, loadings_social]
scatter_all = [scatter_attention, scatter_language, scatter_memory,
               scatter_visuospatial, scatter_social]

# ---------------- style ----------------
RED = "#CA0020"
BLUE = "#0571B0"
FRAME = "#5a5a5a"
TICKC = "#4D4D4D"
TITLEFONT = "Lato"

W, H = 765, 877
fig = plt.figure(figsize=(W / 100, H / 100), dpi=100)


def rect(left, top, w, h):
    return [left / W, 1 - (top + h) / H, w / W, h / H]


def style_axes(ax, show_y):
    for s in ax.spines.values():
        s.set_color(FRAME)
        s.set_linewidth(1.0)
    ax.tick_params(axis="both", colors=FRAME, length=3, width=0.8, direction="out",
                   labelcolor=TICKC, labelsize=7.3, pad=2)
    if not show_y:
        ax.tick_params(axis="y", left=False, labelleft=False)


top_lefts = [49, 193, 338, 481, 626]
bot_lefts = [45, 189, 334, 479, 624]
title_x = [117, 256, 403, 546, 691]

# ---- Panel A: bar charts ----
xi = np.arange(len(markers))
for k in range(5):
    ax = fig.add_axes(rect(top_lefts[k], 113, 137, 217))
    vals = np.array(loadings_all[k])
    cols = [RED if v >= 0 else BLUE for v in vals]
    ax.bar(xi, vals, width=0.9, color=cols, edgecolor="#f3d0d6", linewidth=0.5)
    ax.set_xlim(-0.6, 6.6)
    ax.set_ylim(-1.1, 1.1)
    ax.set_yticks([-1.0, -0.5, 0.0, 0.5, 1.0])
    ax.set_yticklabels(["\u22121.0", "\u22120.5", "0.0", "0.5", "1.0"])
    ax.set_xticks(xi)
    ax.set_xticklabels(markers, rotation=45, ha="right", rotation_mode="anchor")
    style_axes(ax, k == 0)
    fig.text(title_x[k] / W, 1 - 26 / H, domains[k], ha="center", va="top",
             fontsize=11, fontweight="bold", family=TITLEFONT, linespacing=1.6)

fig.text(12 / W, 1 - 236 / H, "Loadings of PLS Component 1", rotation=90,
         ha="center", va="center", fontsize=8.5)
fig.text(405 / W, 1 - 381 / H, "Inflammatory Marker", ha="center", va="center",
         fontsize=8.5)
fig.text(3 / W, 1 - 11 / H, "A)", ha="left", va="center", fontsize=11, family=TITLEFONT)

# ---- Panel B: scatter plots ----
for k in range(5):
    ax = fig.add_axes(rect(bot_lefts[k], 604, 138, 239))
    pts = np.array(scatter_all[k])
    ax.scatter(pts[:, 0], pts[:, 1], s=15, color="black", alpha=0.58, linewidths=0)
    lx = np.array([line_xmin[k], line_xmax[k]])
    ax.plot(lx, intercepts[k] + estimates[k] * lx, color="#3366FF", linewidth=1.6)
    ax.set_xlim(-3.3, 3.3)
    ax.set_ylim(-10.85, 8.9)
    ax.set_xticks([-2, 0, 2])
    ax.set_xticklabels(["\u22122", "0", "2"])
    ax.set_yticks([-10, -5, 0, 5])
    ax.set_yticklabels(["\u221210", "\u22125", "0", "5"])
    style_axes(ax, k == 0)
    est = f"{estimates[k]:.3f}".replace("-", "\u2212")
    ax.text(2.78, -9.1, f"Estimate: {est}", ha="right", va="center", fontsize=5.4,
            color="black")
    ax.text(2.78, -10.0, f"p\u2212value: {p_values[k]}", ha="right", va="center",
            fontsize=5.4, color="black")
    fig.text(title_x[k] / W, 1 - 505 / H, domains[k], ha="center", va="top",
             fontsize=11, fontweight="bold", family=TITLEFONT, linespacing=1.6)

fig.text(11 / W, 1 - 724 / H, "Outcome", rotation=90, ha="center", va="center",
         fontsize=8.5)
fig.text(403 / W, 1 - 866 / H, "PLS Component 1", ha="center", va="center",
         fontsize=8.5)
fig.text(3 / W, 1 - 500 / H, "B)", ha="left", va="center", fontsize=11, family=TITLEFONT)

fig.savefig("out.png", dpi=100, facecolor="white")
